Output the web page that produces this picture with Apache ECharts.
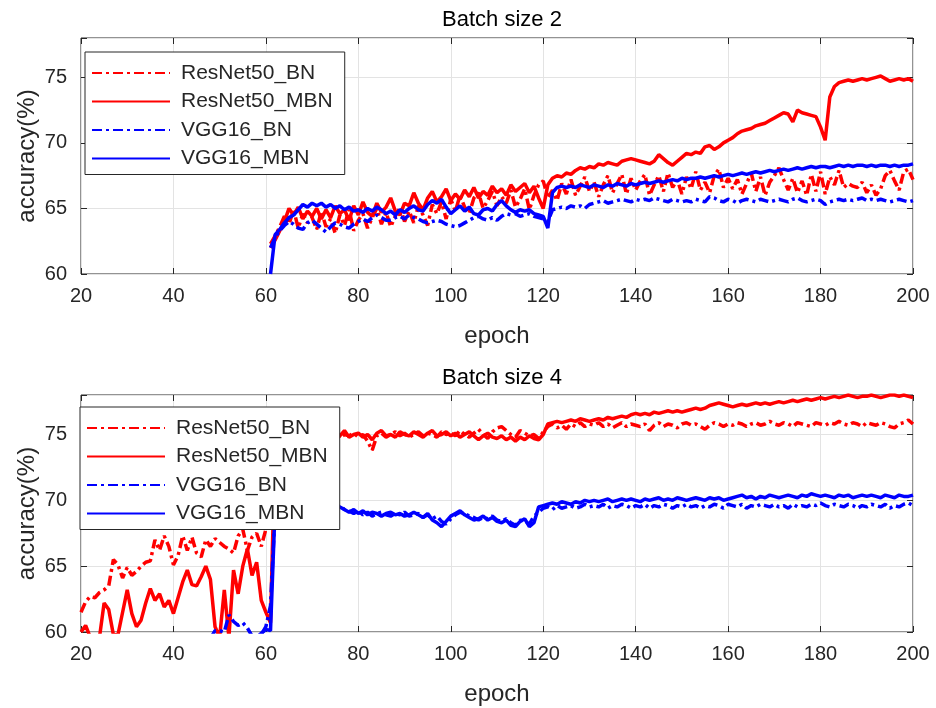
<!DOCTYPE html>
<html><head><meta charset="utf-8">
<script src="https://cdn.jsdelivr.net/npm/echarts@6/dist/echarts.min.js"></script>
<style>html,body{margin:0;padding:0;background:#fff}#c{width:936px;height:708px}</style>
</head><body><div id="c"></div>
<script>
const seriesNames = ['ResNet50_BN', 'ResNet50_MBN', 'VGG16_BN', 'VGG16_MBN'];
const titles = ['Batch size 2', 'Batch size 4'];
const xTicks = [20, 40, 60, 80, 100, 120, 140, 160, 180, 200];
const yTicks = [60, 65, 70, 75];

// ---- Batch size 2: epochs 61..200 ----
const top1Start = 61;
const top1_ResNet50_BN = [
 62.3,
 62.9,63.6,64.4,63.8,64.9,63.5,64.6,63.9,64.3,
 63.4,64.8,63.6,64.2,63.1,64.5,63.7,64.9,63.3,64.1,
 64.6,63.5,64.3,65.0,63.8,64.7,63.6,64.4,65.1,64.0,
 64.8,63.9,65.2,64.5,63.7,65.3,64.6,65.5,64.2,65.7,
 64.8,66.0,65.1,64.6,65.8,66.2,65.0,65.6,66.3,65.2,
 65.9,65.4,66.4,65.1,65.7,66.5,64.9,66.0,66.8,67.1,
 65.8,66.4,65.6,66.9,66.1,67.2,66.0,66.7,67.4,66.3,
 67.0,65.9,66.8,67.5,66.2,66.9,67.6,66.1,67.3,66.4,
 67.1,67.6,66.0,66.8,67.5,66.3,67.7,66.6,67.2,66.1,
 67.4,66.5,67.8,66.4,67.0,66.2,67.5,68.0,66.6,67.3,
 66.5,67.2,66.1,66.9,67.7,66.3,67.4,66.0,67.0,67.5,
 68.1,67.2,66.4,67.3,66.2,67.1,66.0,67.6,66.3,67.8,
 66.1,67.4,66.8,67.9,66.6,66.9,66.7,66.6,67.0,66.2,
 66.8,66.0,66.5,67.5,67.9,67.1,66.4,67.8,68.0,67.2
];
const top1_ResNet50_MBN = [
 62.0,
 62.6,63.3,64.0,65.0,64.5,65.1,64.2,64.8,64.4,
 65.0,64.2,64.9,64.3,65.2,64.6,64.9,64.1,65.2,64.5,
 65.5,64.7,64.4,65.4,64.7,65.1,65.8,64.8,64.5,65.4,
 65.2,66.2,65.4,64.9,65.8,66.3,65.5,65.9,66.5,65.6,
 66.1,65.7,66.4,65.9,66.6,65.8,66.3,66.0,66.7,66.2,
 66.5,66.0,66.8,66.3,66.6,66.9,66.2,66.7,65.8,65.0,
 66.8,67.3,67.5,67.4,67.7,67.6,67.9,68.1,68.0,68.2,
 68.1,68.4,68.3,68.5,68.4,68.3,68.6,68.7,68.8,68.7,
 68.6,68.5,68.4,68.6,69.1,68.8,68.5,68.3,68.6,68.9,
 69.2,69.1,69.3,69.2,69.7,69.8,69.5,69.7,70.0,70.2,
 70.4,70.7,70.9,71.0,71.1,71.3,71.4,71.5,71.7,71.9,
 72.1,72.3,72.2,71.6,72.5,72.3,72.2,72.1,72.0,71.2,
 70.2,73.5,74.3,74.6,74.7,74.8,74.7,74.8,74.9,74.8,
 74.9,75.0,75.1,74.9,74.7,74.8,74.9,74.8,74.9,74.7
];
const top1_VGG16_BN = [
 62.0,
 62.8,63.3,63.7,64.0,63.8,63.5,63.4,63.9,64.1,
 63.8,63.5,63.2,63.6,63.9,63.8,63.6,63.5,63.8,64.0,
 64.2,64.0,64.3,64.5,64.3,64.1,64.1,64.3,64.4,64.2,
 64.5,64.3,64.2,64.0,63.9,64.0,64.1,64.0,63.8,63.7,
 63.6,63.7,63.9,64.1,64.3,64.4,64.2,64.1,64.3,64.1,
 64.4,64.6,64.5,64.6,64.4,64.5,64.6,64.4,64.3,64.2,
 64.0,64.9,65.0,65.1,65.0,65.2,65.1,65.2,65.0,65.3,
 65.4,65.5,65.6,65.4,65.5,65.6,65.7,65.6,65.5,65.7,
 65.6,65.7,65.6,65.8,65.7,65.6,65.5,65.7,65.6,65.5,
 65.6,65.5,65.7,65.6,65.5,65.9,65.8,65.6,65.5,65.7,
 65.6,65.4,65.6,65.7,65.6,65.5,65.7,65.6,65.5,65.6,
 65.7,65.6,65.5,65.7,65.8,65.6,65.5,65.6,65.7,65.6,
 65.3,65.5,65.6,65.7,65.6,65.7,65.6,65.7,65.8,65.6,
 65.7,65.6,65.7,65.6,65.5,65.6,65.7,65.6,65.5,65.6
];
const top1_VGG16_MBN = [
 60.0,
 63.0,63.4,63.9,64.3,64.5,64.9,65.3,65.1,65.4,
 65.2,65.4,65.1,65.3,65.0,65.2,64.9,65.1,64.8,64.9,
 64.7,65.0,64.8,65.1,64.9,64.6,64.8,64.5,64.9,64.7,
 65.0,65.2,64.9,64.8,65.3,65.6,65.4,65.7,65.1,64.6,
 64.9,65.2,64.8,65.1,64.6,64.5,64.9,65.0,64.8,65.3,
 65.6,65.2,64.9,64.7,64.9,64.8,64.9,64.6,64.5,64.4,
 63.5,66.2,66.6,66.7,66.6,66.7,66.6,66.8,66.7,66.6,
 66.8,66.7,66.6,66.8,66.7,66.9,66.8,66.7,66.9,66.8,
 66.9,67.0,66.9,67.0,67.1,67.0,67.1,67.2,67.1,67.3,
 67.2,67.3,67.3,67.4,67.3,67.4,67.5,67.4,67.5,67.6,
 67.5,67.6,67.7,67.6,67.7,67.8,67.7,67.8,67.9,67.8,
 67.9,68.0,67.9,68.0,68.1,68.0,68.1,68.2,68.1,68.2,
 68.2,68.1,68.2,68.3,68.2,68.3,68.2,68.3,68.3,68.2,
 68.3,68.2,68.3,68.3,68.2,68.3,68.2,68.3,68.3,68.4
];

// ---- Batch size 4: epochs 20..200 ----
const top2Start = 20;
const top2_ResNet50_BN = [
 61.5,62.3,62.7,62.6,63.0,63.2,63.5,65.5,65.1,64.1,64.9,
 64.3,64.6,65.0,65.3,65.4,67.0,66.2,67.3,66.5,65.1,
 65.8,67.3,66.2,67.2,66.0,65.7,67.0,66.5,67.1,66.8,
 66.5,66.3,66.0,67.3,67.8,66.2,67.2,67.5,66.5,67.8,69.0,
 74.8,75.0,75.2,74.9,75.1,74.8,75.0,75.2,74.9,
 75.1,74.8,75.0,74.9,75.2,74.7,75.0,74.9,75.1,74.8,
 75.0,74.5,73.8,74.9,75.1,74.8,75.0,75.2,74.9,75.1,
 74.8,75.0,75.2,74.9,75.1,75.0,74.8,75.2,75.0,75.1,
 74.9,75.3,75.0,74.8,75.1,75.4,75.0,74.7,75.2,75.5,
 75.6,75.3,75.0,74.8,75.3,75.1,74.9,75.0,74.7,75.2,
 75.6,75.8,75.5,75.7,75.4,75.8,75.6,75.9,75.6,75.8,
 75.7,75.9,75.6,75.8,75.5,75.7,75.9,75.6,75.8,75.7,
 75.6,75.8,75.3,75.7,75.9,75.6,75.8,75.7,75.5,75.8,
 75.9,75.7,75.8,75.6,75.4,75.7,75.9,75.8,75.6,75.8,
 75.7,75.9,75.8,75.6,75.8,75.9,75.7,75.8,76.0,75.8,
 75.7,75.9,75.8,75.6,75.9,75.8,75.7,75.6,75.9,75.8,
 75.7,75.9,75.8,76.0,75.8,75.7,75.9,75.8,75.6,75.9,
 75.8,75.7,75.9,75.8,75.6,75.5,75.8,75.9,76.1,75.8
];
const top2_ResNet50_MBN = [
 60.0,60.5,59.6,59.4,59.6,62.2,61.7,59.8,59.8,61.5,63.2,
 61.4,60.4,60.9,62.2,63.3,62.4,62.9,61.9,62.4,61.4,
 62.6,63.8,64.7,63.6,63.5,64.2,65.0,64.0,60.4,59.6,
 63.2,59.6,64.7,62.9,65.0,66.3,64.3,65.3,62.4,61.5,60.7,
 74.5,74.9,75.1,74.8,75.0,74.7,75.1,74.9,75.2,
 74.9,75.1,74.8,75.0,75.2,74.9,75.3,74.8,75.0,75.1,
 74.8,75.0,74.6,75.1,75.3,74.9,75.0,74.8,75.2,75.0,
 74.9,75.2,75.0,74.8,75.1,75.3,74.9,75.0,75.2,74.9,
 75.1,74.8,75.0,75.2,74.9,74.6,74.9,75.1,74.8,74.7,
 74.9,74.6,74.8,74.5,74.8,74.6,74.9,74.7,74.6,75.0,
 75.8,75.9,76.0,75.9,76.0,76.1,76.0,76.2,76.1,76.0,
 76.1,76.2,76.1,76.3,76.2,76.3,76.4,76.3,76.5,76.6,
 76.5,76.6,76.5,76.7,76.6,76.7,76.8,76.7,76.8,76.7,
 76.8,76.9,77.0,76.9,77.0,77.2,77.3,77.4,77.3,77.2,
 77.1,77.2,77.3,77.2,77.3,77.4,77.3,77.4,77.3,77.4,
 77.5,77.4,77.5,77.6,77.5,77.6,77.7,77.6,77.7,77.8,
 77.7,77.8,77.9,77.8,77.9,78.0,77.9,77.8,77.9,77.9,
 78.0,77.9,77.8,77.9,78.0,78.0,77.9,78.0,77.9,77.8
];
const top2_VGG16_BN = [
 null,null,null,null,null,null,null,null,null,null,null,
 null,null,null,null,null,null,null,null,null,null,
 null,null,null,null,null,null,null,59.5,60.1,60.1,
 60.0,61.3,60.8,60.5,60.7,60.3,59.7,59.6,59.8,60.4,62.0,
 69.2,69.5,69.3,69.6,69.4,69.5,69.2,69.4,69.3,
 69.5,69.2,69.4,69.3,69.5,69.6,69.3,69.2,69.0,69.2,
 68.9,69.1,68.8,69.0,69.1,68.9,68.8,69.0,68.9,69.1,
 68.8,68.9,69.0,68.7,68.9,68.6,68.8,68.4,68.2,68.6,
 68.9,69.1,69.0,68.8,68.7,68.5,68.7,68.6,68.8,68.5,
 68.4,68.6,68.3,68.1,68.5,68.4,68.2,68.8,69.1,69.4,
 69.5,69.3,69.6,69.4,69.5,69.6,69.4,69.5,69.7,69.5,
 69.6,69.5,69.7,69.4,69.6,69.5,69.7,69.6,69.4,69.6,
 69.5,69.7,69.4,69.6,69.5,69.7,69.6,69.4,69.6,69.5,
 69.7,69.5,69.6,69.4,69.6,69.5,69.7,69.6,69.4,69.7,
 69.6,69.5,69.7,69.4,69.6,69.5,69.7,69.6,69.5,69.7,
 69.5,69.6,69.4,69.7,69.5,69.6,69.5,69.7,69.6,69.8,
 69.6,69.5,69.7,69.6,69.5,69.7,69.6,69.4,69.6,69.5,
 69.7,69.6,69.5,69.7,69.4,69.6,69.5,69.7,69.8,69.6
];
const top2_VGG16_MBN = [
 null,null,null,null,null,null,null,null,null,null,null,
 null,null,null,null,null,null,null,null,null,null,
 null,null,null,null,null,null,null,null,null,null,
 null,null,null,null,null,null,null,59.6,59.9,60.2,60.1,
 69.5,69.6,69.4,69.7,69.5,69.6,69.4,69.5,69.6,
 69.4,69.6,69.5,69.3,69.6,69.5,69.3,69.1,69.3,69.0,
 69.2,68.9,69.1,69.0,68.8,69.0,69.1,68.9,69.0,68.8,
 68.9,69.1,68.9,68.7,69.0,68.5,68.3,68.0,68.4,68.8,
 69.0,69.2,68.9,68.7,68.5,68.6,68.8,68.5,68.7,68.4,
 68.3,68.5,68.1,68.0,68.4,68.6,68.0,68.3,69.5,69.6,
 69.7,69.8,69.7,69.9,69.8,69.7,69.9,69.8,70.0,69.9,
 70.0,69.9,70.0,70.1,69.9,70.0,70.1,70.0,70.1,70.0,
 69.9,70.1,70.0,70.1,70.2,70.0,70.1,70.0,70.2,70.1,
 70.0,70.1,70.2,70.1,70.0,70.2,70.1,70.2,70.0,70.1,
 70.2,70.3,70.4,70.2,70.3,70.1,70.3,70.2,70.4,70.3,
 70.2,70.3,70.4,70.3,70.2,70.4,70.3,70.5,70.4,70.3,
 70.4,70.3,70.2,70.4,70.3,70.4,70.2,70.3,70.4,70.3,
 70.4,70.3,70.2,70.4,70.3,70.2,70.4,70.3,70.3,70.4
];

const panels = [
  {start: top1Start, data: [top1_ResNet50_BN, top1_ResNet50_MBN, top1_VGG16_BN, top1_VGG16_MBN]},
  {start: top2Start, data: [top2_ResNet50_BN, top2_ResNet50_MBN, top2_VGG16_BN, top2_VGG16_MBN]}
];
const colors = ['#ff0000', '#ff0000', '#0000ff', '#0000ff'];
const dashes = [[10, 4, 3, 4], 'solid', [10, 4, 3, 4], 'solid'];

const FONT = 'Liberation Sans, Arial, sans-serif';
const TXT = '#262626';
const grids = [
  {left: 81, top: 38, width: 832, height: 236},
  {left: 81, top: 395, width: 832, height: 237}
];
const legendPos = [{left: 85, top: 52}, {left: 80, top: 407}];

const xAxes = [], yAxes = [], series = [], legends = [], titleArr = [];
grids.forEach((g, gi) => {
  g.show = true; g.borderColor = TXT; g.borderWidth = 1; g.backgroundColor = '#fff';
  xAxes.push({
    type: 'value', gridIndex: gi, min: xTicks[0], max: xTicks[xTicks.length - 1], interval: 20,
    position: 'bottom', name: 'epoch', nameLocation: 'middle', nameGap: 50,
    nameTextStyle: {fontFamily: FONT, fontSize: 24, color: TXT},
    axisLine: {show: false}, axisTick: {inside: true, length: 6, lineStyle: {color: TXT}},
    axisLabel: {fontFamily: FONT, fontSize: 20, color: TXT, margin: 12},
    splitLine: {show: true, lineStyle: {color: '#e3e3e3', width: 1}}
  });
  xAxes.push({
    type: 'value', gridIndex: gi, min: xTicks[0], max: xTicks[xTicks.length - 1], interval: 20,
    position: 'top', axisLine: {show: false}, axisLabel: {show: false},
    axisTick: {inside: true, length: 6, lineStyle: {color: TXT}}, splitLine: {show: false}
  });
  yAxes.push({
    type: 'value', gridIndex: gi, min: 60, max: 78, interval: 5,
    position: 'left', name: 'accuracy(%)', nameLocation: 'middle', nameGap: 42, nameRotate: 90,
    nameMoveOverlap: false,
    nameTextStyle: {fontFamily: FONT, fontSize: 24, color: TXT},
    axisLine: {show: false}, axisTick: {inside: true, length: 6, lineStyle: {color: TXT}},
    axisLabel: {fontFamily: FONT, fontSize: 20, color: TXT, margin: 14,
      formatter: v => (yTicks.indexOf(v) >= 0 ? String(v) : '')},
    splitLine: {show: true, lineStyle: {color: '#e3e3e3', width: 1}}
  });
  yAxes.push({
    type: 'value', gridIndex: gi, min: 60, max: 78, interval: 5,
    position: 'right', axisLine: {show: false}, axisLabel: {show: false},
    axisTick: {inside: true, length: 6, lineStyle: {color: TXT}}, splitLine: {show: false}
  });
  titleArr.push({
    text: titles[gi], left: 497, textAlign: 'center', top: gi === 0 ? 4 : 362,
    textStyle: {fontFamily: FONT, fontSize: 22, fontWeight: 'normal', color: '#000'}
  });
  legends.push({
    data: seriesNames, orient: 'vertical', left: legendPos[gi].left, top: legendPos[gi].top,
    itemWidth: 78, itemHeight: 14, itemGap: 6.5,
    itemStyle: {opacity: 0, borderWidth: 0},
    backgroundColor: '#fff', borderColor: TXT, borderWidth: 1, borderRadius: 0,
    padding: [10, 12, 5, 6], selectedMode: false, z: 10,
    textStyle: {fontFamily: FONT, fontSize: 21, color: TXT, lineHeight: 22, padding: [0, 0, 0, 6]}
  });
  const p = panels[gi];
  p.data.forEach((vals, si) => {
    series.push({
      type: 'line', name: seriesNames[si], xAxisIndex: gi * 2, yAxisIndex: gi * 2,
      data: vals.map((v, i) => [p.start + i, v]),
      showSymbol: false, symbol: 'none', connectNulls: false, clip: true, silent: true,
      lineStyle: {color: colors[si], width: 3.5, type: dashes[si]},
      itemStyle: {color: colors[si]}
    });
  });
});

const chart = echarts.init(document.getElementById('c'), null, {renderer: 'canvas'});
chart.setOption({
  animation: false, backgroundColor: '#fff',
  title: titleArr, grid: grids, xAxis: xAxes, yAxis: yAxes, legend: legends, series: series
});
</script>
</body></html>
